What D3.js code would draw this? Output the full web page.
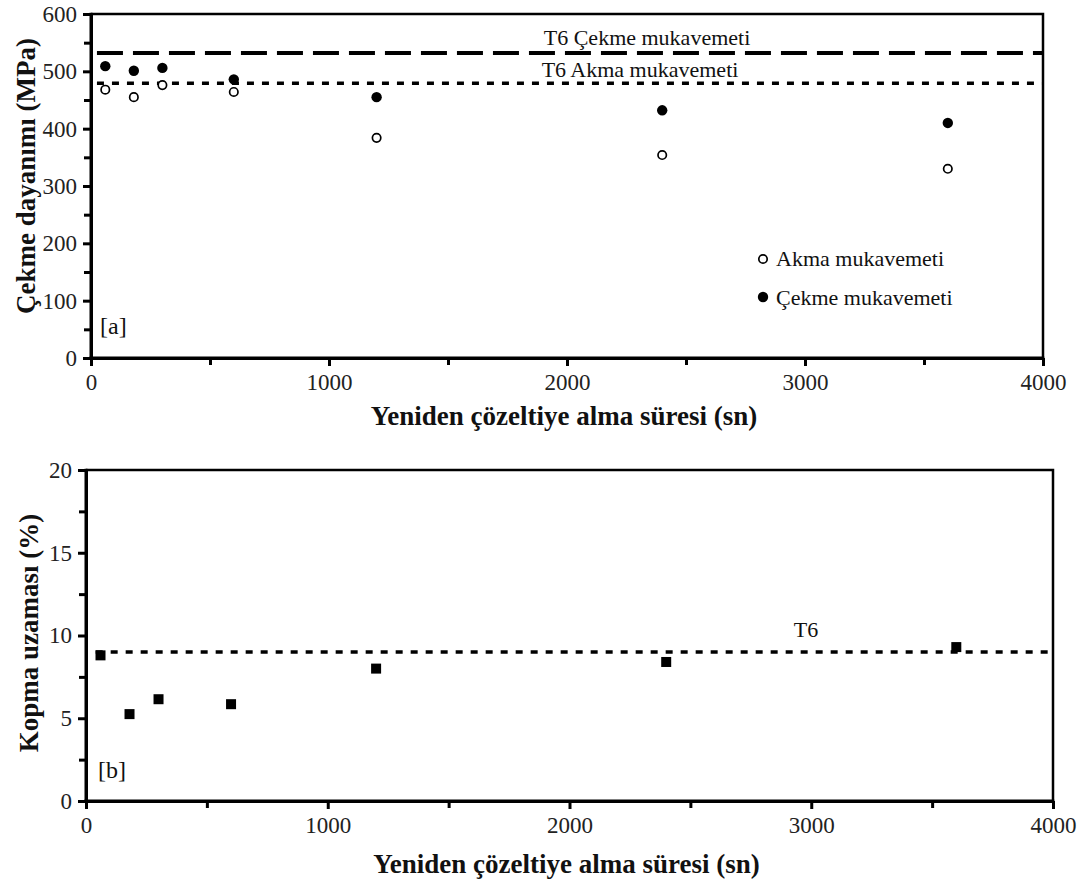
<!DOCTYPE html>
<html><head><meta charset="utf-8">
<script src="https://cdn.jsdelivr.net/npm/d3@7"></script>
<style>
body{margin:0;background:#fff;}
</style></head>
<body><svg id="c" width="1083" height="885"></svg>
<script>
// ---- data ----
const times = [60, 180, 300, 600, 1200, 2400, 3600];
const akma = [468, 455, 476, 464, 384, 354, 330];
const cekme = [509, 501, 506, 486, 455, 432, 410];
const elong = [8.8, 5.25, 6.15, 5.85, 8.0, 8.4, 9.3];
const t6Cekme = 532, t6Akma = 479, t6Elong = 9.0;
const xTicks = [0, 1000, 2000, 3000, 4000];
const xMinor = [500, 1500, 2500, 3500];
const yTicksA = [0, 100, 200, 300, 400, 500, 600];
const yMinorA = [50, 150, 250, 350, 450, 550];
const yTicksB = [0, 5, 10, 15, 20];
const yMinorB = [2.5, 7.5, 12.5, 17.5];
const xTitle = "Yeniden çözeltiye alma süresi (sn)";
const yTitleA = "Çekme dayanımı (MPa)";
const yTitleB = "Kopma uzaması (%)";
const legendLabels = ["Akma mukavemeti", "Çekme mukavemeti"];

const FONT = "Liberation Serif";
const svg = d3.select("#c");

function txt(g){ return g.append("text").style("font-family",FONT).attr("fill","#111"); }

function panel(o){
  const g = svg.append("g");
  const x = d3.scaleLinear().domain([0,4000]).range([o.l,o.r]);
  const y = d3.scaleLinear().domain(o.ydom).range([o.b,o.t]);
  g.append("path").attr("d",`M${o.l},${o.t}H${o.r}V${o.b}`).attr("fill","none").attr("stroke","#000").attr("stroke-width",2.5);
  const ax = g.append("g").attr("transform",`translate(0,${o.b})`)
    .call(d3.axisBottom(x).tickValues(xTicks).tickSize(8).tickSizeOuter(0).tickPadding(8).tickFormat(d3.format("d")));
  const axm = g.append("g").attr("transform",`translate(0,${o.b})`)
    .call(d3.axisBottom(x).tickValues(xMinor).tickSize(7).tickSizeOuter(0).tickFormat(""));
  const ay = g.append("g").attr("transform",`translate(${o.l},0)`)
    .call(d3.axisLeft(y).tickValues(o.yt).tickSize(8).tickSizeOuter(0).tickPadding(6));
  const aym = g.append("g").attr("transform",`translate(${o.l},0)`)
    .call(d3.axisLeft(y).tickValues(o.ym).tickSize(7).tickSizeOuter(0).tickFormat(""));
  [ax,axm,ay,aym].forEach(a=>{
    a.style("font-family",FONT);
    a.select(".domain").attr("stroke","#000").attr("stroke-width",3);
    a.selectAll(".tick line").attr("stroke","#000").attr("stroke-width",3);
    a.selectAll(".tick text").attr("font-size",23).attr("fill","#222").style("font-family",FONT);
  });
  ax.selectAll(".domain").attr("d",`M${o.l-1.5},0H${o.r+1.25}`);
  ay.selectAll(".domain").attr("d",`M0,${o.b+1.5}V${o.t-1.25}`);
  txt(g).attr("x",(o.l+o.r)/2 - 3).attr("y",o.b+o.xty).attr("text-anchor","middle")
    .attr("font-size",27).attr("font-weight","bold").text(xTitle);
  txt(g).attr("transform",`translate(${o.ytx},${o.yty}) rotate(-90)`)
    .attr("text-anchor","middle").attr("font-size",27).attr("font-weight","bold").text(o.ytitle);
  return {g,x,y};
}

// ---- panel a ----
const A = panel({l:91,r:1043,t:14,b:358,ydom:[0,600],yt:yTicksA,ym:yMinorA,ytitle:yTitleA,ytx:35,yty:176,xty:67});
A.g.append("line").attr("x1",A.x(25)).attr("x2",A.x(4000)).attr("y1",A.y(t6Cekme)).attr("y2",A.y(t6Cekme))
  .attr("stroke","#000").attr("stroke-width",4).attr("stroke-dasharray","26,10");
A.g.append("line").attr("x1",A.x(25)).attr("x2",A.x(4000)).attr("y1",A.y(t6Akma)).attr("y2",A.y(t6Akma))
  .attr("stroke","#000").attr("stroke-width",3.5).attr("stroke-dasharray","7,8");
txt(A.g).attr("x",647).attr("y",A.y(t6Cekme)-8).attr("text-anchor","middle").attr("font-size",22).text("T6 Çekme mukavemeti");
txt(A.g).attr("x",640).attr("y",A.y(t6Akma)-6).attr("text-anchor","middle").attr("font-size",22).text("T6 Akma mukavemeti");
A.g.selectAll("circle.open").data(times).join("circle").attr("class","open")
  .attr("cx",(d)=>A.x(d)).attr("cy",(d,i)=>A.y(akma[i])).attr("r",4.2).attr("fill","#fff").attr("stroke","#000").attr("stroke-width",1.7);
A.g.selectAll("circle.fill").data(times).join("circle").attr("class","fill")
  .attr("cx",(d)=>A.x(d)).attr("cy",(d,i)=>A.y(cekme[i])).attr("r",5.2).attr("fill","#000");
const lg = A.g.append("g");
lg.append("circle").attr("cx",763).attr("cy",259).attr("r",4.2).attr("fill","#fff").attr("stroke","#000").attr("stroke-width",1.7);
lg.append("circle").attr("cx",763).attr("cy",297).attr("r",5.2).attr("fill","#000");
txt(lg).attr("x",776).attr("y",266).attr("font-size",22).text(legendLabels[0]);
txt(lg).attr("x",776).attr("y",305).attr("font-size",22).text(legendLabels[1]);
txt(A.g).attr("x",100).attr("y",334).attr("font-size",24).text("[a]");

// ---- panel b ----
const B = panel({l:86,r:1053,t:470,b:801,ydom:[0,20],yt:yTicksB,ym:yMinorB,ytitle:yTitleB,ytx:38,yty:633,xty:72});
B.g.append("line").attr("x1",B.x(40)).attr("x2",B.x(4000)).attr("y1",B.y(t6Elong)).attr("y2",B.y(t6Elong))
  .attr("stroke","#000").attr("stroke-width",3.5).attr("stroke-dasharray","7,8");
txt(B.g).attr("x",806).attr("y",B.y(t6Elong)-15).attr("text-anchor","middle").attr("font-size",22).text("T6");
B.g.selectAll("rect.sq").data(times).join("rect").attr("class","sq")
  .attr("x",d=>B.x(d)-5).attr("y",(d,i)=>B.y(elong[i])-5).attr("width",10).attr("height",10).attr("fill","#000");
txt(B.g).attr("x",98).attr("y",778).attr("font-size",24).text("[b]");
</script></body></html>
